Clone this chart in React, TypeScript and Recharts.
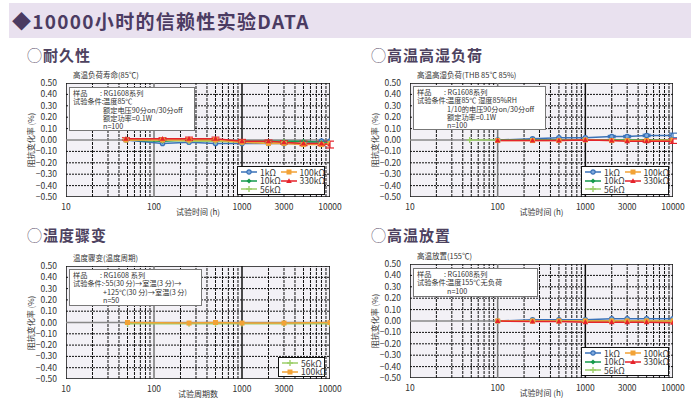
import React from 'react';
import {
  LineChart, Line, XAxis, YAxis, ReferenceLine, ReferenceArea, ErrorBar,
} from 'recharts';

const FONT = '"Noto Sans CJK SC", "Noto Sans", sans-serif';

// axis ticks
const xTicks = [10, 100, 1000, 3000, 10000];
const yTicks = [-0.5, -0.4, -0.3, -0.2, -0.1, 0, 0.1, 0.2, 0.3, 0.4, 0.5];
const minorX = [20, 30, 40, 50, 60, 70, 80, 90, 200, 300, 400, 500, 600, 700, 800, 900,
  2000, 3000, 4000, 5000, 6000, 7000, 8000, 9000];
const decadeX = [100, 1000];
const dottedY = [-0.4, -0.3, -0.2, -0.1, 0.1, 0.2, 0.3, 0.4];

// 耐久性
const endHours = [48, 125, 250, 500, 1000, 2000, 3000, 5000, 8000, 10000];
const end1k = [0, -0.03, -0.02, -0.03, -0.03, -0.03, -0.03, -0.03, -0.01, -0.01];
const end10k = [0, -0.01, 0, 0, -0.01, -0.01, -0.01, -0.01, -0.02, -0.02];
const end56k = [0, 0, -0.01, -0.01, -0.02, -0.02, -0.02, -0.03, -0.03, -0.03];
const end100k = [0, 0, 0, 0, -0.02, -0.03, -0.03, -0.04, -0.04, -0.03];
const end330k = [0.01, 0.01, 0.01, 0.01, -0.01, -0.01, -0.02, -0.03, -0.03, -0.04];
const end330kErr = [0.01, 0.01, 0.015, 0.015, 0.015, 0.01, 0.015, 0.02, 0.02, 0.03];

// 高温高湿负荷
const thbHours56k = [48, 100];
const thb56k = [0, 0];
const thbHours = [100, 250, 500, 1000, 2000, 3000, 5000, 10000];
const thb1k = [0, 0.01, 0.02, 0.02, 0.03, 0.03, 0.04, 0.04];
const thb1kErr = [0, 0, 0, 0, 0.01, 0.01, 0.01, 0.02];
const thb10k = [0, 0, 0, 0, 0, 0, 0, 0];
const thb100k = [-0.005, -0.005, -0.005, 0, -0.005, -0.005, -0.005, 0];
const thb330k = [-0.005, -0.005, -0.005, 0, -0.005, -0.01, -0.01, -0.01];
const thb330kErr = [0, 0, 0, 0, 0, 0, 0.01, 0.02];

// 温度骤变
const tcCycles = [50, 250, 500, 1000, 3000, 10000];
const tc56k = [-0.01, -0.01, -0.01, -0.01, -0.01, -0.01];
const tc100k = [0, -0.005, 0, -0.005, -0.005, 0];

// 高温放置
const htsHours = [100, 250, 500, 1000, 2000, 3000, 5000, 10000];
const hts1k = [0, 0.01, 0.01, 0.01, 0.02, 0.02, 0.02, 0.02];
const hts10k = [0, 0, 0, 0, 0, 0, 0, 0];
const hts56k = [0, 0, 0, 0, 0, 0, 0, 0];
const hts100k = [0, 0, 0, 0, 0, 0, 0, 0];
const hts330k = [0, -0.005, -0.005, -0.01, -0.01, -0.01, -0.01, -0.015];

type Shape = 'circle' | 'diamond' | 'plus' | 'square' | 'triangle';
interface SeriesStyle { name: string; color: string; shape: Shape }
const S1K: SeriesStyle = { name: '1kΩ', color: '#3a72b8', shape: 'circle' };
const S10K: SeriesStyle = { name: '10kΩ', color: '#169a4c', shape: 'diamond' };
const S56K: SeriesStyle = { name: '56kΩ', color: '#9ccf6a', shape: 'plus' };
const S100K: SeriesStyle = { name: '100kΩ', color: '#f2a236', shape: 'square' };
const S330K: SeriesStyle = { name: '330kΩ', color: '#e5232b', shape: 'triangle' };

function Mark({ cx, cy, shape, color }: { cx: number; cy: number; shape: Shape; color: string }) {
  if (cx == null || cy == null) return null;
  switch (shape) {
    case 'circle':
      return <circle cx={cx} cy={cy} r={2.2} fill="#7fa8dc" stroke={color} strokeWidth={1.2} />;
    case 'diamond':
      return <polygon points={`${cx},${cy - 2.5} ${cx + 2.5},${cy} ${cx},${cy + 2.5} ${cx - 2.5},${cy}`} fill={color} />;
    case 'plus':
      return <path d={`M${cx - 3},${cy}H${cx + 3}M${cx},${cy - 3}V${cy + 3}`} stroke={color} strokeWidth={1.4} />;
    case 'square':
      return <rect x={cx - 2.5} y={cy - 2.5} width={5} height={5} fill={color} />;
    default:
      return <polygon points={`${cx},${cy - 2.8} ${cx + 2.8},${cy + 2} ${cx - 2.8},${cy + 2}`} fill={color} />;
  }
}

interface SeriesDef { style: SeriesStyle; xs: number[]; ys: number[]; err?: number[] }

function build(def: SeriesDef) {
  return def.xs.map((x, i) => ({ x, y: def.ys[i], err: def.err ? def.err[i] : 0 }));
}

function LegendBox({ l, t, w, h, cols }: { l: number; t: number; w: number; h: number; cols: SeriesStyle[][] }) {
  return (
    <div style={{
      position: 'absolute', left: l, top: t, width: w, height: h,
      display: 'flex', background: '#fff', border: '1.5px solid #111',
      padding: '1px 3px', boxSizing: 'border-box', zIndex: 2,
    }}>
      {cols.map((col, ci) => (
        <div key={ci} style={{ display: 'flex', flexDirection: 'column', width: ci === 0 && cols.length > 1 ? 41 : undefined }}>
          {col.map((s) => (
            <div key={s.name} style={{ display: 'flex', alignItems: 'center', height: 8.4, fontSize: 8.5, lineHeight: '8.4px', color: '#333', whiteSpace: 'nowrap' }}>
              <svg width={16} height={8} style={{ marginRight: 3, flex: 'none' }}>
                <line x1={0} y1={4} x2={16} y2={4} stroke={s.color} strokeWidth={1.5} />
                <Mark cx={8} cy={4} shape={s.shape} color={s.color} />
              </svg>
              {s.name}
            </div>
          ))}
        </div>
      ))}
    </div>
  );
}

interface PanelProps {
  left: number; top: number;
  title: string; subtitle: string; xLabel: string;
  plot: { l: number; r: number; t: number; b: number };
  box: { l: number; t: number; w: number; h: number; rows: [string, string][] };
  legend: { l: number; t: number; w: number; h: number; cols: SeriesStyle[][] };
  series: SeriesDef[];
}

const W = 349;
const H = 180;

function Panel({ left, top, title, subtitle, xLabel, plot, box, legend, series }: PanelProps) {
  const yAxisW = 30;
  const xAxisH = 12;
  const yLabelX = plot.l - 35;
  return (
    <div style={{ position: 'absolute', left, top, width: W, height: H, fontFamily: FONT }}>
      <div style={{ position: 'absolute', left: plot.l - 39, top: 4, fontSize: 15, fontWeight: 700, color: '#4d4260', letterSpacing: 1 }}>
        <span style={{ fontWeight: 300 }}>◯</span>{title}
      </div>
      <div style={{ position: 'absolute', left: plot.l + 7, top: plot.t - 14, fontSize: 7.5, color: '#333' }}>{subtitle}</div>
      <div style={{
        position: 'absolute', left: yLabelX - 40, top: (plot.t + plot.b) / 2 - 6, width: 80, textAlign: 'center',
        fontSize: 8, lineHeight: '12px', color: '#333', transform: 'rotate(-90deg)',
      }}>阻抗变化率 (%)</div>
      <div style={{ position: 'absolute', left: plot.l, width: plot.r - plot.l, top: plot.b + 10, textAlign: 'center', fontSize: 8, lineHeight: '10px', color: '#333' }}>{xLabel}</div>
      <LineChart
        width={W}
        height={H}
        margin={{ top: plot.t, right: W - plot.r, left: plot.l - yAxisW, bottom: H - plot.b - xAxisH }}
        style={{ fontFamily: FONT }}
      >
        <XAxis
          type="number" dataKey="x" scale="log" domain={[10, 10000]} ticks={xTicks}
          allowDataOverflow axisLine={false} tickLine={false} height={xAxisH}
          tick={{ fontSize: 8.5, fill: '#333' }} tickMargin={1} interval={0}
        />
        <YAxis
          type="number" dataKey="y" domain={[-0.5, 0.5]} ticks={yTicks} allowDataOverflow
          axisLine={false} tickLine={false} width={yAxisW} interval={0}
          tick={{ fontSize: 8.5, fill: '#333' }} tickMargin={3}
          tickFormatter={(v: number) => (v < 0 ? '−' + Math.abs(v).toFixed(2) : v.toFixed(2))}
        />
        <ReferenceArea x1={10} x2={10000} y1={-0.5} y2={0.5} fill="#f3f1f6" fillOpacity={1} stroke="none" ifOverflow="hidden" />
        {minorX.map((v) => (
          <ReferenceLine key={'mx' + v} x={v} stroke="#111" strokeWidth={1} strokeDasharray="3 1" />
        ))}
        {dottedY.map((v) => (
          <ReferenceLine key={'dy' + v} y={v} stroke="#111" strokeWidth={1} strokeDasharray="2 1" />
        ))}
        {decadeX.map((v) => (
          <ReferenceLine key={'dx' + v} x={v} stroke={v === 100 ? '#777' : '#111'} strokeWidth={1.5} />
        ))}
        <ReferenceLine y={0} stroke="#888" strokeWidth={1.5} />
        <ReferenceArea x1={10} x2={10000} y1={-0.5} y2={0.5} fill="none" stroke="#111" strokeWidth={1.5} ifOverflow="hidden" />
        {series.map((s) => (
          <Line
            key={s.style.name}
            data={build(s)}
            dataKey="y"
            name={s.style.name}
            stroke={s.style.color}
            strokeWidth={1.5}
            isAnimationActive={false}
            dot={(p: any) => <Mark key={p.index} cx={p.cx} cy={p.cy} shape={s.style.shape} color={s.style.color} />}
          >
            {s.err && <ErrorBar dataKey="err" width={4} stroke={s.style.color} strokeWidth={1.2} direction="y" />}
          </Line>
        ))}
      </LineChart>
      <LegendBox {...legend} />
      <div style={{
        position: 'absolute', left: box.l, top: box.t, width: box.w, height: box.h, boxSizing: 'border-box', zIndex: 2,
        background: '#fff', border: '1.5px solid #777', padding: '1px 3px', fontSize: 7.2, lineHeight: '8.3px', color: '#333',
      }}>
        {box.rows.map(([a, b], i) => (
          <div key={i} style={{ display: 'flex', whiteSpace: 'nowrap' }}>
            <span style={{ width: 30, flex: 'none' }}>{a}</span>
            <span style={{ marginLeft: b.startsWith(':') ? -3 : 0 }}>{b}</span>
          </div>
        ))}
      </div>
    </div>
  );
}

export default function App() {
  return (
    <div style={{ position: 'absolute', left: 0, top: 0, width: 699, height: 400, background: '#fff', overflow: 'hidden', fontFamily: FONT }}>
      <div style={{
        position: 'absolute', left: 9, top: 3, width: 682, height: 35, background: '#e9e1ef',
      }} />
      <div style={{
        position: 'absolute', left: 12, top: 7, fontSize: 19, fontWeight: 700, color: '#4b3b62', letterSpacing: 1.3,
      }}>◆10000小时的信赖性实验DATA</div>

      <Panel
        left={0} top={40}
        title="耐久性" subtitle="高温负荷寿命(85℃)" xLabel="试验时间 (h)"
        plot={{ l: 66, r: 330, t: 43, b: 157 }}
        box={{ l: 69, t: 47, w: 126, h: 44, rows: [['样品', ': RG1608系列'], ['试验条件:', '温度85℃'], ['', '额定电压90分on/30分off'], ['', '额定功率=0.1W'], ['', 'n=100']] }}
        legend={{ l: 237, t: 126, w: 88, h: 29, cols: [[S1K, S10K, S56K], [S100K, S330K]] }}
        series={[
          { style: S1K, xs: endHours, ys: end1k },
          { style: S10K, xs: endHours, ys: end10k },
          { style: S56K, xs: endHours, ys: end56k },
          { style: S100K, xs: endHours, ys: end100k },
          { style: S330K, xs: endHours, ys: end330k, err: end330kErr },
        ]}
      />
      <Panel
        left={350} top={40}
        title="高温高湿负荷" subtitle="高温高湿负荷(THB 85℃ 85%)" xLabel="试验时间 (h)"
        plot={{ l: 60, r: 323, t: 43, b: 157 }}
        box={{ l: 63, t: 46, w: 133, h: 44, rows: [['样品', ': RG1608系列'], ['试验条件:', '温度85℃ 湿度85%RH'], ['', '1/10的电压90分on/30分off'], ['', '额定功率=0.1W'], ['', 'n=100']] }}
        legend={{ l: 231, t: 126, w: 88, h: 29, cols: [[S1K, S10K, S56K], [S100K, S330K]] }}
        series={[
          { style: S56K, xs: thbHours56k, ys: thb56k },
          { style: S1K, xs: thbHours, ys: thb1k, err: thb1kErr },
          { style: S10K, xs: thbHours, ys: thb10k },
          { style: S100K, xs: thbHours, ys: thb100k },
          { style: S330K, xs: thbHours, ys: thb330k, err: thb330kErr },
        ]}
      />
      <Panel
        left={0} top={220}
        title="温度骤变" subtitle="温度骤变(温度周期)" xLabel="试验周期数"
        plot={{ l: 66, r: 330, t: 46, b: 159 }}
        box={{ l: 69, t: 49, w: 133, h: 37, rows: [['样品', ': RG1608 系列'], ['试验条件:', '-55(30 分)→室温(3 分)→'], ['', '+125℃(30 分)→室温(3 分)'], ['', 'n=50']] }}
        legend={{ l: 278, t: 137, w: 47, h: 20, cols: [[S56K, S100K]] }}
        series={[
          { style: S56K, xs: tcCycles, ys: tc56k },
          { style: S100K, xs: tcCycles, ys: tc100k },
        ]}
      />
      <Panel
        left={350} top={220}
        title="高温放置" subtitle="高温放置(155℃)" xLabel="试验时间 (h)"
        plot={{ l: 60, r: 323, t: 44, b: 158 }}
        box={{ l: 63, t: 48, w: 125, h: 29, rows: [['样品', ': RG1608系列'], ['试验条件:', '温度155℃无负荷'], ['', 'n=100']] }}
        legend={{ l: 231, t: 127, w: 88, h: 29, cols: [[S1K, S10K, S56K], [S100K, S330K]] }}
        series={[
          { style: S1K, xs: htsHours, ys: hts1k },
          { style: S10K, xs: htsHours, ys: hts10k },
          { style: S56K, xs: htsHours, ys: hts56k },
          { style: S100K, xs: htsHours, ys: hts100k },
          { style: S330K, xs: htsHours, ys: hts330k },
        ]}
      />
    </div>
  );
}
